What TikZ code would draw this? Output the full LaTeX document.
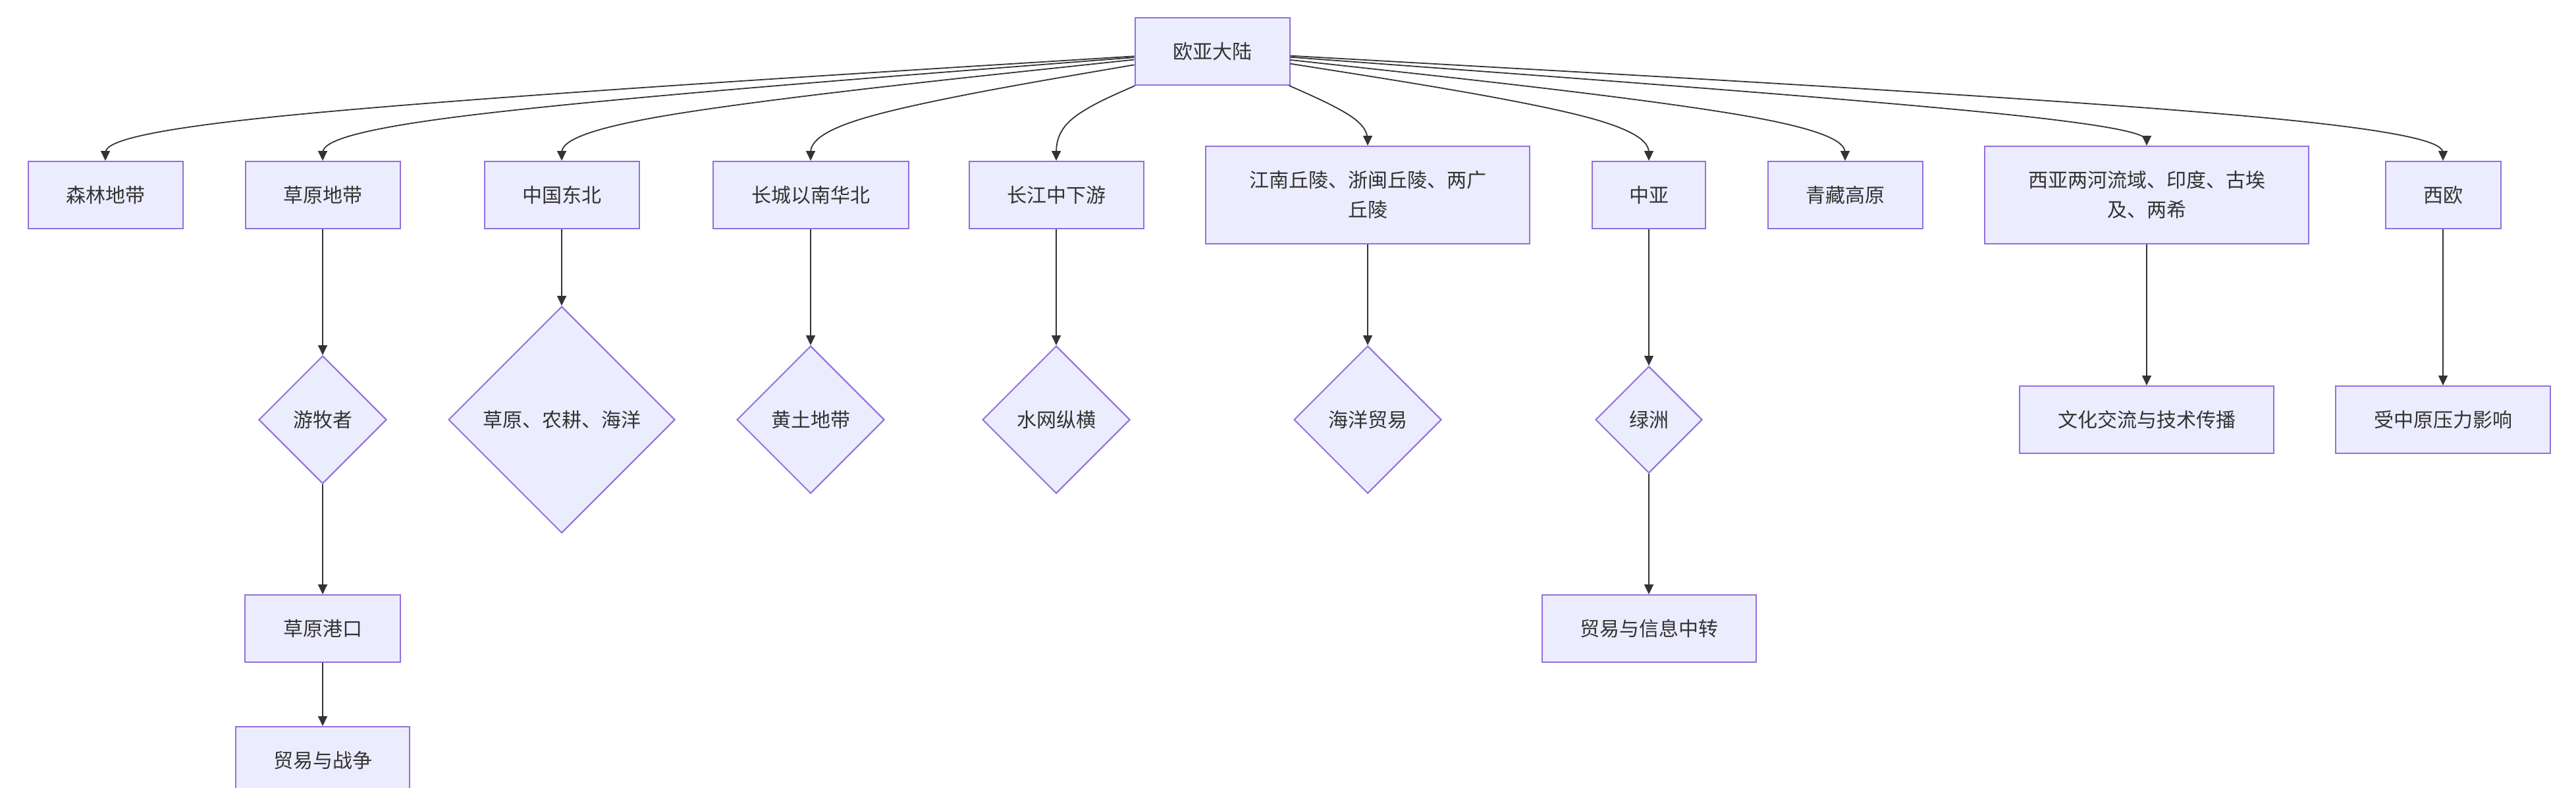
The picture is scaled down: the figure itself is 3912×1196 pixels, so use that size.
\documentclass[tikz,border=0pt]{standalone}
\usepackage{fontspec}
\newfontfamily\cjk{Noto Sans CJK SC}
\usetikzlibrary{shapes.geometric,arrows.meta,calc}
\definecolor{nodefill}{HTML}{ECECFF}
\definecolor{nodeline}{HTML}{9370DB}
\definecolor{edgecol}{HTML}{333333}
\definecolor{txtcol}{HTML}{333333}
\tikzset{
  base/.style={draw=nodeline, fill=nodefill, line width=2pt, text=txtcol,
    font=\cjk\fontsize{30}{45}\selectfont, inner sep=0pt, align=center},
  box/.style={base, rectangle, minimum height=102pt, minimum width=#1},
  tallbox/.style={base, rectangle, minimum height=148pt, minimum width=#1},
  dia/.style={base, diamond, aspect=1, minimum width=#1, minimum height=#1},
  link/.style={draw=edgecol, line width=1.8pt, -{Triangle[length=15pt,width=14pt]}},
}
\newcommand\curvelink[3]{%
  \coordinate (cE) at (#2.north);
  \coordinate (cM) at (cE |- 0,#3);
  \path (#1) -- (cM) coordinate[pos=0] (cS);
  \coordinate (cSE) at ($(cS)!0.5!(cE)$);
  \draw[link] (#1) -- ($(cS)!1/6!(cM)$)
    .. controls ($(cS)!1/3!(cM)$) and ($(cS)!2/3!(cM)$) .. ($(cM)!1/3!(cSE)$)
    .. controls ($(cM)!1/3!(cE)$) and ($(cM)!2/3!(cE)$) .. ($(cM)!5/6!(cE)$)
    -- (#2);
}
\begin{document}
\begin{tikzpicture}[x=1pt,y=-1pt]
\useasboundingbox (0,0) rectangle (3912,1196);
% rank 0
\node[box=235pt] (top) at (1841,78) {欧亚大陆};
% rank 1
\node[box=235pt] (senlin) at (160,296) {森林地带};
\node[box=235pt] (caoyuan) at (490,296) {草原地带};
\node[box=235pt] (dongbei) at (853,296) {中国东北};
\node[box=297pt] (huabei) at (1231,296) {长城以南华北};
\node[box=265pt] (changjiang) at (1604,296) {长江中下游};
\node[tallbox=492pt] (jiangnan) at (2077,296) {江南丘陵、浙闽丘陵、两广\\丘陵};
\node[box=172pt] (zhongya) at (2504,296) {中亚};
\node[box=235pt] (qingzang) at (2802,296) {青藏高原};
\node[tallbox=492pt] (xiya) at (3260,296) {西亚两河流域、印度、古埃\\及、两希};
\node[box=175pt] (xiou) at (3710,296) {西欧};
% rank 2
\node[dia=194pt] (youmu) at (490,637) {游牧者};
\node[dia=344pt] (nonggeng) at (853,637) {草原、农耕、海洋};
\node[dia=224pt] (huangtu) at (1231,637) {黄土地带};
\node[dia=224pt] (shuiwang) at (1604,637) {水网纵横};
\node[dia=224pt] (haiyang) at (2077,637) {海洋贸易};
\node[dia=162pt] (lvzhou) at (2504,637) {绿洲};
\node[box=386pt] (wenhua) at (3260,637) {文化交流与技术传播};
\node[box=326pt] (shouya) at (3710,637) {受中原压力影响};
% rank 3
\node[box=236pt] (gangkou) at (490,954) {草原港口};
\node[box=325pt] (zhongzhuan) at (2504,954) {贸易与信息中转};
% rank 4
\node[box=264pt] (zhanzheng) at (490,1154) {贸易与战争};
% curved links from top
\curvelink{top}{senlin}{183}
\curvelink{top}{caoyuan}{183}
\curvelink{top}{dongbei}{183}
\curvelink{top}{huabei}{183}
\curvelink{top}{changjiang}{183}
\curvelink{top}{jiangnan}{183}
\curvelink{top}{zhongya}{183}
\curvelink{top}{qingzang}{183}
\curvelink{top}{xiya}{183}
\curvelink{top}{xiou}{183}
% straight links
\draw[link] (caoyuan) -- (youmu);
\draw[link] (youmu) -- (gangkou);
\draw[link] (gangkou) -- (zhanzheng);
\draw[link] (dongbei) -- (nonggeng);
\draw[link] (huabei) -- (huangtu);
\draw[link] (changjiang) -- (shuiwang);
\draw[link] (jiangnan) -- (haiyang);
\draw[link] (zhongya) -- (lvzhou);
\draw[link] (lvzhou) -- (zhongzhuan);
\draw[link] (xiya) -- (wenhua);
\draw[link] (xiou) -- (shouya);
\end{tikzpicture}
\end{document}
